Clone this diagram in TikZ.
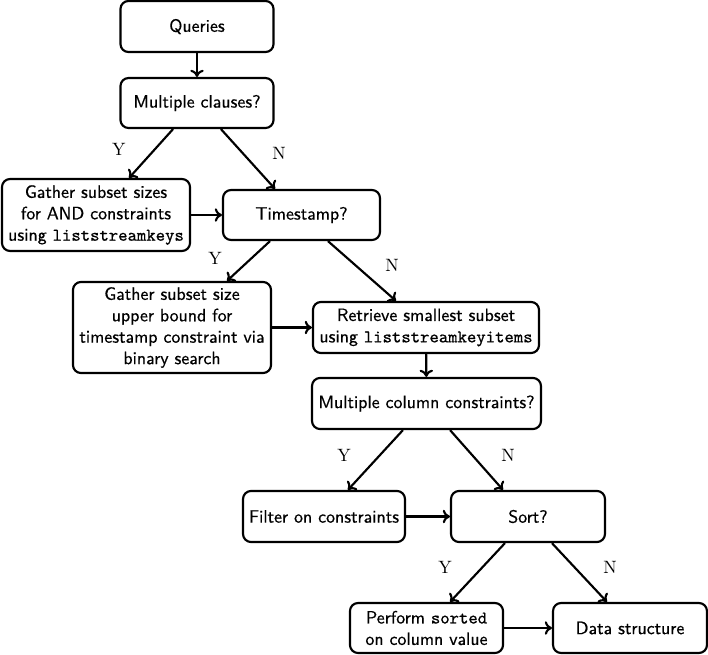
\documentclass[tikz,border=0pt]{standalone}
\usepackage{fontspec}
\setmainfont{Latin Modern Roman}
\setsansfont{Latin Modern Sans}[UprightFeatures={FakeBold=0.6}]
\setmonofont{Latin Modern Mono}[UprightFeatures={FakeBold=0.8}]
\usetikzlibrary{calc,arrows.meta}
\begin{document}
\begin{tikzpicture}[x=0.56pt,y=-0.56pt,
  box/.style={draw, line width=1.2pt, rounded corners=4.5pt, align=center,
    font=\sffamily, inner sep=0pt},
  arr/.style={-{To[length=4pt,width=7.5pt]}, line width=1.2pt},
  lbl/.style={font=\rmfamily, inner sep=0pt}]
\useasboundingbox (0,0) rectangle (708,655);
\node[box, minimum width=85.7pt, minimum height=28.6pt] (q) at (197,26.5) {Queries};
\node[box, minimum width=85.7pt, minimum height=28pt] (mc) at (197,103) {Multiple clauses?};
\node[box, minimum width=105.3pt, minimum height=40.3pt] (g1) at (96,215) {Gather subset sizes\\for AND constraints\\using \texttt{liststreamkeys}};
\node[box, minimum width=87.9pt, minimum height=28pt] (ts) at (301.5,215) {Timestamp?};
\node[box, minimum width=110.9pt, minimum height=51pt] (g2) at (172,327.5) {Gather subset size\\upper bound for\\timestamp constraint via\\binary search};
\node[box, minimum width=126.6pt, minimum height=28.6pt] (r) at (426,327.5) {Retrieve smallest subset\\using \texttt{liststreamkeyitems}};
\node[box, minimum width=128.2pt, minimum height=28.6pt] (mcc) at (426.5,403.5) {Multiple column constraints?};
\node[box, minimum width=90.7pt, minimum height=28.6pt] (fl) at (324,516.5) {Filter on constraints};
\node[box, minimum width=86.2pt, minimum height=28.6pt] (so) at (528,516.5) {Sort?};
\node[box, minimum width=85.7pt, minimum height=28pt] (pf) at (426.5,628) {Perform \texttt{sorted}\\on column value};
\node[box, minimum width=86.2pt, minimum height=28pt] (ds) at (630,628) {Data structure};

\draw[arr] (q) -- (mc);
\draw[arr] ([xshift=-13.4pt]mc.south) -- node[lbl, midway, xshift=-18pt, yshift=2.5pt] {Y} ([xshift=18.5pt]g1.north);
\draw[arr] ([xshift=13.4pt]mc.south) -- node[lbl, midway, xshift=17.4pt, yshift=3pt] {N} ([xshift=-14.8pt]ts.north);
\draw[arr] (g1.east |- ts.west) -- (ts.west);
\draw[arr] ([xshift=-17.6pt]ts.south) -- node[lbl, midway, xshift=-18.8pt, yshift=1.7pt] {Y} ([xshift=30.8pt]g2.north);
\draw[arr] ([xshift=14.8pt]ts.south) -- node[lbl, midway, xshift=16.8pt, yshift=3.4pt] {N} ([xshift=-16.8pt]r.north);
\draw[arr] (g2.east |- r.west) -- (r.west);
\draw[arr] (r) -- (mcc);
\draw[arr] ([xshift=-13.2pt]mcc.south) -- node[lbl, midway, xshift=-17.6pt, yshift=2.5pt] {Y} ([xshift=13.4pt]fl.north);
\draw[arr] ([xshift=13.2pt]mcc.south) -- node[lbl, midway, xshift=17.6pt, yshift=2.5pt] {N} ([xshift=-14pt]so.north);
\draw[arr] (fl) -- (so);
\draw[arr] ([xshift=-12.9pt]so.south) -- node[lbl, midway, xshift=-18.2pt, yshift=2.8pt] {Y} ([xshift=13.2pt]pf.north);
\draw[arr] ([xshift=13.4pt]so.south) -- node[lbl, midway, xshift=17.1pt, yshift=2.8pt] {N} ([xshift=-12.9pt]ds.north);
\draw[arr] (pf) -- (ds);
\end{tikzpicture}
\end{document}
